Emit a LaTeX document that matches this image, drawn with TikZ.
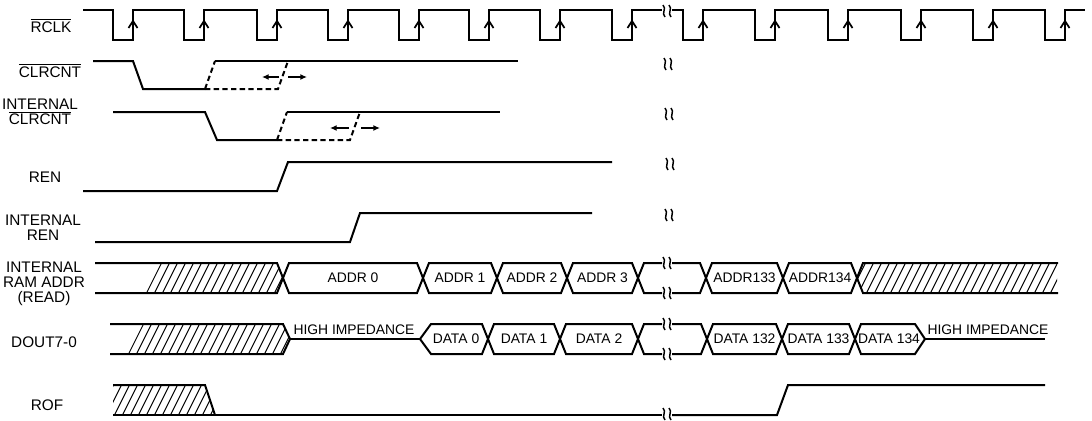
\documentclass[tikz,border=0pt]{standalone}
\usepackage{fontspec}
\setmainfont{Liberation Sans}
\usetikzlibrary{arrows.meta}
\newcommand{\ovl}[1]{$\overline{\mbox{#1}}$}
\tikzset{
  sig/.style={line width=1.5pt, line join=miter},
  dsig/.style={line width=1.5pt, dash pattern=on 4pt off 2.5pt},
  hatchln/.style={line width=0.7pt},
  lbl/.style={font=\fontsize{11.5}{11}\selectfont, align=center, inner sep=0pt},
  buslbl/.style={font=\fontsize{10.4}{12}\selectfont, inner sep=0pt},
  brk/.style={line width=1.1pt},
  tickmark/.style={line width=1.3pt},
  harrow/.style={line width=1.3pt, -{Latex[length=5pt,width=4.5pt]}},
}
% break mark: two small wavy strokes centred on (#1,#2)
\newcommand{\brkmark}[2]{%
  \draw[brk] ({#1-4},{#2-6}) .. controls ({#1},{#2-2}) and ({#1-6},{#2+2}) .. ({#1-2},{#2+6});
  \draw[brk] ({#1+2},{#2-6}) .. controls ({#1+6},{#2-2}) and ({#1},{#2+2}) .. ({#1+4},{#2+6});
}
% hatching: #1 clip path, #2 start x, #3 bottom y
\newcommand{\hatchfill}[3]{%
  \begin{scope}
    \clip #1;
    \foreach \i in {0,...,30}{\draw[hatchln] ({#2+8*\i},{#3+1}) -- ++(16,-32);}
  \end{scope}
}
% bus segment: #1 x1, #2 x2, #3 mid y, #4 name, #5 text
\newcommand{\busseg}[5]{%
  \draw[sig] (#1,#3) -- ({#1+6},{#3-15}) -- ({#2-6},{#3-15}) -- (#2,#3) -- ({#2-6},{#3+15}) -- ({#1+6},{#3+15}) -- cycle;
  \node[buslbl] (#4) at ({(#1+#2)/2},#3) {#5};
}
\begin{document}
\begin{tikzpicture}[x=0.75pt,y=-0.75pt]
\fill[white] (0,0) rectangle (1092,421);
\useasboundingbox (0,0) rectangle (1092,421);

% ---------- labels ----------
\node[lbl, anchor=base] (lrclk) at (51,32) {\ovl{RCLK}};
\node[lbl, anchor=base] (lclr) at (50,77) {\ovl{CLRCNT}};
\node[lbl, anchor=north] (liclr) at (40,99) {INTERNAL\\\ovl{CLRCNT}};
\node[lbl, anchor=base] (lren) at (45,182) {REN};
\node[lbl, anchor=north] (liren) at (43,215) {INTERNAL\\REN};
\node[lbl, anchor=north] (laddr) at (44,262) {INTERNAL\\RAM ADDR\\(READ)};
\node[lbl, anchor=base] (ldout) at (44,347) {DOUT7-0};
\node[lbl, anchor=base] (lrof) at (47,410) {ROF};

% ---------- RCLK ----------
\draw[sig] (83,10) -- (113,10) -- (113,40) -- (133,40) -- (133,10)
  -- (184,10) -- (184,40) -- (204,40) -- (204,10)
  -- (257,10) -- (257,40) -- (277,40) -- (277,10)
  -- (328,10) -- (328,40) -- (348,40) -- (348,10)
  -- (399,10) -- (399,40) -- (419,40) -- (419,10)
  -- (469,10) -- (469,40) -- (489,40) -- (489,10)
  -- (540,10) -- (540,40) -- (560,40) -- (560,10)
  -- (612,10) -- (612,40) -- (632,40) -- (632,10) -- (662,10);
\draw[sig] (672,10) -- (683,10) -- (683,40) -- (703,40) -- (703,10)
  -- (755,10) -- (755,40) -- (775,40) -- (775,10)
  -- (828,10) -- (828,40) -- (848,40) -- (848,10)
  -- (901,10) -- (901,40) -- (921,40) -- (921,10)
  -- (973,10) -- (973,40) -- (993,40) -- (993,10)
  -- (1045,10) -- (1045,40) -- (1065,40) -- (1065,10) -- (1085,10);
\foreach \r in {133,204,277,348,419,489,560,632,703,775,848,921,993,1065}{
  \draw[tickmark] ({\r-4.5},28) -- (\r,21) -- ({\r+4.5},28);
}
\brkmark{667}{11}

% ---------- CLRCNT ----------
\draw[sig] (93,61) -- (133,61) -- (143,89) -- (205,89);
\draw[sig] (215,61) -- (518,61);
\draw[dsig] (205,89) -- (215,61);
\draw[dsig] (205,89) -- (278,89) -- (288,61);
\draw[harrow] (279,77) -- (262,77);
\draw[harrow] (288,77) -- (307,77);
\brkmark{668}{64}

% ---------- INTERNAL CLRCNT ----------
\draw[sig] (113,112) -- (205,112) -- (217,140) -- (277,140);
\draw[sig] (287,112) -- (500,112);
\draw[dsig] (277,140) -- (287,112);
\draw[dsig] (277,140) -- (350,140) -- (360,112);
\draw[harrow] (349,128) -- (330,128);
\draw[harrow] (361,128) -- (380,128);
\brkmark{669}{114}

% ---------- REN ----------
\draw[sig] (83,191) -- (277,191) -- (288,162) -- (612,162);
\brkmark{670}{164}

% ---------- INTERNAL REN ----------
\draw[sig] (95,242) -- (350,242) -- (360,213) -- (592,213);
\brkmark{669}{215}

% ---------- INTERNAL RAM ADDR ----------
\hatchfill{(146,293) -- (161,263) -- (277,263) -- (283,278) -- (277,293) -- cycle}{146}{293}
\draw[sig] (95,263) -- (277,263) -- (283,278) -- (277,293) -- (95,293);
\busseg{283}{423}{278}{a0}{ADDR 0}
\busseg{423}{497}{278}{a1}{ADDR 1}
\busseg{497}{567}{278}{a2}{ADDR 2}
\busseg{567}{638}{278}{a3}{ADDR 3}
\draw[sig] (662,263) -- (644,263) -- (638,278) -- (644,293) -- (662,293);
\draw[sig] (672,263) -- (700,263) -- (706,278) -- (700,293) -- (672,293);
\brkmark{667}{263}
\brkmark{667}{293}
\busseg{706}{783}{278}{a133}{ADDR133}
\busseg{783}{857}{278}{a134}{ADDR134}
\hatchfill{(857,278) -- (863,263) -- (1057,263) -- (1057,293) -- (863,293) -- cycle}{842}{293}
\draw[sig] (1058,263) -- (863,263) -- (857,278) -- (863,293) -- (1058,293);

% ---------- DOUT7-0 ----------
\hatchfill{(128,354) -- (143,324) -- (283,324) -- (290,339) -- (283,354) -- cycle}{128}{354}
\draw[sig] (110,324) -- (283,324) -- (290,339) -- (283,354) -- (110,354);
\draw[sig] (290,339) -- (420,339);
\node[buslbl, anchor=base] (hz1) at (354,334) {HIGH IMPEDANCE};
\draw[sig] (420,339) -- (431,324) -- (482,324) -- (488,339) -- (482,354) -- (431,354) -- cycle;
\node[buslbl] (d0) at (456,339) {DATA 0};
\busseg{488}{560}{339}{d1}{DATA 1}
\busseg{560}{638}{339}{d2}{DATA 2}
\draw[sig] (662,324) -- (644,324) -- (638,339) -- (644,354) -- (662,354);
\draw[sig] (672,324) -- (701,324) -- (707,339) -- (701,354) -- (672,354);
\brkmark{667}{324}
\brkmark{667}{354}
\busseg{707}{782}{339}{d132}{DATA 132}
\busseg{782}{855}{339}{d133}{DATA 133}
\draw[sig] (855,339) -- (861,324) -- (915,324) -- (925,339) -- (915,354) -- (861,354) -- cycle;
\node[buslbl] (d134) at (889,339) {DATA 134};
\draw[sig] (925,339) -- (1045,339);
\node[buslbl, anchor=base] (hz2) at (988,334) {HIGH IMPEDANCE};

% ---------- ROF ----------
\hatchfill{(113,415) -- (113,385) -- (205,385) -- (215,415) -- cycle}{98}{415}
\draw[sig] (113,385) -- (205,385) -- (215,415);
\draw[sig] (113,415) -- (662,415);
\draw[sig] (672,415) -- (777,415) -- (788,385) -- (1045,385);
\brkmark{667}{414}
\end{tikzpicture}
\end{document}
